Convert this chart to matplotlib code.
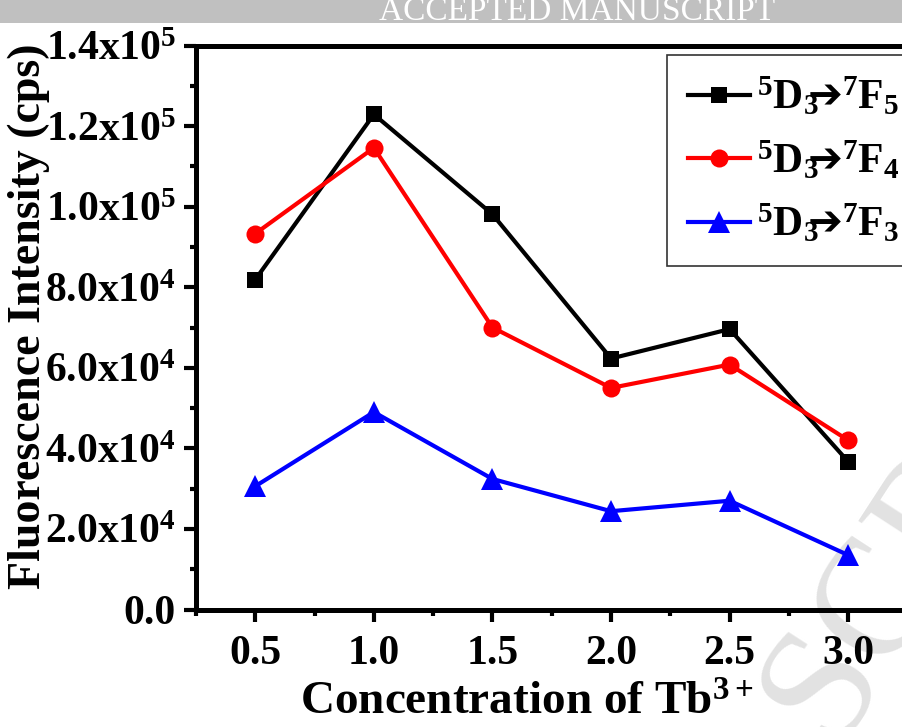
import matplotlib
matplotlib.use("Agg")
import matplotlib.pyplot as plt
from matplotlib.patches import Rectangle
from matplotlib.ticker import FixedLocator, MultipleLocator

plt.rcParams["font.family"] = ["Liberation Serif", "DejaVu Serif"]
plt.rcParams["font.weight"] = "bold"
plt.rcParams["mathtext.fontset"] = "custom"
plt.rcParams["mathtext.rm"] = "Liberation Serif:bold"
plt.rcParams["mathtext.bf"] = "Liberation Serif:bold"
plt.rcParams["mathtext.it"] = "Liberation Serif:bold"
plt.rcParams["mathtext.sf"] = "DejaVu Sans"

# Tb3+ concentration and emission intensities (cps)
concentration = [0.5, 1.0, 1.5, 2.0, 2.5, 3.0]
f5_intensity = [81900, 122900, 98100, 62300, 69600, 36700]
f4_intensity = [93300, 114600, 70000, 55000, 60800, 42000]
f3_intensity = [30600, 49000, 32400, 24400, 27000, 13500]

series_labels = [
    r"$\mathbf{{}^{5}D_{3}}\!\!\mathsf{➔}\mathbf{{}^{7}F_{5}}$",
    r"$\mathbf{{}^{5}D_{3}}\!\!\mathsf{➔}\mathbf{{}^{7}F_{4}}$",
    r"$\mathbf{{}^{5}D_{3}}\!\!\mathsf{➔}\mathbf{{}^{7}F_{3}}$",
]

x_ticks = [0.5, 1.0, 1.5, 2.0, 2.5, 3.0]
x_tick_labels = ["0.5", "1.0", "1.5", "2.0", "2.5", "3.0"]
y_ticks = [0, 20000, 40000, 60000, 80000, 100000, 120000, 140000]
y_tick_labels = [
    "0.0",
    r"$\mathbf{2.0x10^{4}}$",
    r"$\mathbf{4.0x10^{4}}$",
    r"$\mathbf{6.0x10^{4}}$",
    r"$\mathbf{8.0x10^{4}}$",
    r"$\mathbf{1.0x10^{5}}$",
    r"$\mathbf{1.2x10^{5}}$",
    r"$\mathbf{1.4x10^{5}}$",
]

W, H = 903, 727
fig = plt.figure(figsize=(W / 100, H / 100), dpi=100)

# header band
fig.patches.append(Rectangle((0, 1 - 23 / H), 1, 23 / H, transform=fig.transFigure,
                             facecolor="#c0c0c0", edgecolor="none", zorder=-5))
fig.text(577 / W, 1 - 20 / H, "ACCEPTED MANUSCRIPT", color="white", fontsize=24,
         fontweight="normal", ha="center", va="baseline", zorder=-4)

# diagonal background stamp
fig.text(832 / W, 1 - 745 / H, "SCRIPT", color="#e2e2e2", fontsize=120,
         fontweight="normal", rotation=57, rotation_mode="anchor",
         ha="left", va="baseline", zorder=-3)

left, right, bottom, top = 196, 907.5, 609.5, 45.5
ax = fig.add_axes([left / W, 1 - bottom / H, (right - left) / W, (bottom - top) / H])
ax.patch.set_alpha(0)

ax.plot(concentration, f5_intensity, color="black", lw=3, marker="s", ms=12,
        mew=0, label=series_labels[0], zorder=3)
ax.plot(concentration, f4_intensity, color="red", lw=3, marker="o", ms=13,
        mew=0, label=series_labels[1], zorder=3)
ax.plot(concentration, f3_intensity, color="blue", lw=3, marker="^", ms=16,
        mew=0, label=series_labels[2], zorder=3)

ax.set_xlim(0.25, 3.25)
ax.set_ylim(0, 140000)
ax.xaxis.set_major_locator(FixedLocator(x_ticks))
ax.set_xticklabels(x_tick_labels)
ax.xaxis.set_minor_locator(MultipleLocator(0.25))
ax.yaxis.set_major_locator(FixedLocator(y_ticks))
ax.set_yticklabels(y_tick_labels)
ax.yaxis.set_minor_locator(MultipleLocator(10000))

for s in ax.spines.values():
    s.set_linewidth(3.6)
ax.tick_params(which="major", direction="out", length=8.5, width=3, labelsize=30, pad=10)
ax.tick_params(which="minor", direction="out", length=4.5, width=3)
ax.tick_params(axis="y", which="major", pad=6)
for lab in ax.get_xticklabels() + ax.get_yticklabels():
    lab.set_fontweight("bold")

ax.set_xlabel(r"Concentration of Tb$^{\mathbf{3+}}$", fontsize=34, fontweight="bold")
ax.xaxis.set_label_coords((527 - left) / (right - left), -(683 - bottom) / (bottom - top))
ax.set_ylabel("Fluorescence Intensity (cps)", fontsize=33, fontweight="bold")
ax.yaxis.set_label_coords((50 - left) / (right - left), 0.52)

leg = ax.legend(loc="upper left", bbox_to_anchor=(667 / W, 1 - 55 / H),
                bbox_transform=fig.transFigure, borderaxespad=0,
                fontsize=30, handlelength=1.5, handletextpad=0.15,
                labelspacing=0.5, borderpad=0.5, fancybox=False,
                framealpha=1)
leg.get_frame().set_edgecolor("#333333")
leg.get_frame().set_linewidth(1.2)

fig.savefig("out.png", dpi=100)
